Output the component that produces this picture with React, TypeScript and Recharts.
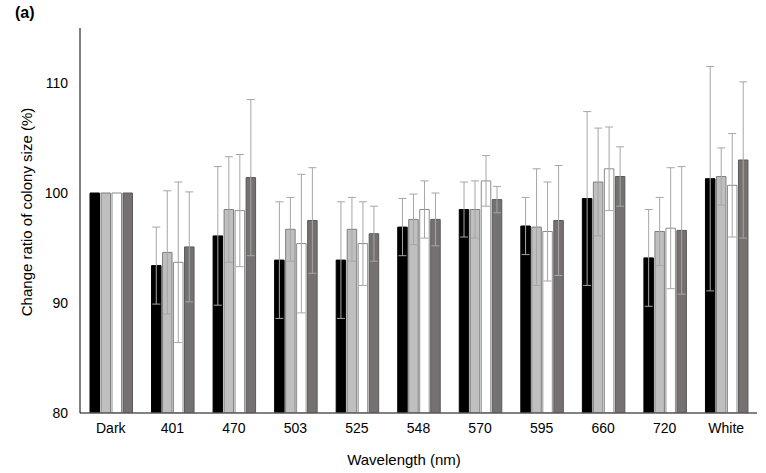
import React from 'react';
import { BarChart, Bar, XAxis, YAxis, ErrorBar, Label } from 'recharts';

const categories = ['Dark', '401', '470', '503', '525', '548', '570', '595', '660', '720', 'White'];
const blackValues = [100, 93.4, 96.1, 93.9, 93.9, 96.9, 98.5, 97.0, 99.5, 94.1, 101.3];
const blackErr = [null, 3.5, 6.3, 5.3, 5.3, 2.6, 2.5, 2.6, 7.9, 4.4, 10.2];
const lightValues = [100, 94.6, 98.5, 96.7, 96.7, 97.6, 98.5, 96.9, 101.0, 96.5, 101.5];
const lightErr = [null, 5.6, 4.8, 2.9, 2.9, 2.3, 2.6, 5.3, 4.9, 3.1, 2.6];
const whiteValues = [100, 93.7, 98.4, 95.4, 95.4, 98.5, 101.1, 96.5, 102.2, 96.8, 100.7];
const whiteErr = [null, 7.3, 5.1, 6.3, 3.8, 2.6, 2.3, 4.5, 3.8, 5.5, 4.7];
const darkValues = [100, 95.1, 101.4, 97.5, 96.3, 97.6, 99.4, 97.5, 101.5, 96.6, 103.0];
const darkErr = [null, 5.0, 7.1, 4.8, 2.5, 2.4, 1.2, 5.0, 2.7, 5.8, 7.1];
const yTicks = [80, 90, 100, 110];

const data = categories.map((c, i) => ({
  name: c,
  s1: blackValues[i],
  e1: blackErr[i] ?? undefined,
  s2: lightValues[i],
  e2: lightErr[i] ?? undefined,
  s3: whiteValues[i],
  e3: whiteErr[i] ?? undefined,
  s4: darkValues[i],
  e4: darkErr[i] ?? undefined,
}));

const FONT = '"Liberation Sans", Arial, sans-serif';
const ERR = '#a6a6a6';

export default function App() {
  return (
    <div style={{ position: 'absolute', left: 0, top: 0, width: 766, height: 473, background: '#fff' }}>
      <BarChart
        width={766}
        height={473}
        data={data}
        margin={{ top: 28, right: 9, left: 0, bottom: 30 }}
        barSize={9.5}
        barGap={1.5}
      >
        <XAxis
          dataKey="name"
          height={30}
          tickLine={false}
          tickSize={0}
          tickMargin={10}
          axisLine={{ stroke: '#595959', strokeWidth: 1.5 }}
          tick={{ fill: '#000', fontSize: 14, fontFamily: FONT }}
          interval={0}
        >
          <Label
            content={() => (
              <text x={404} y={465} textAnchor="middle" fontSize={15} fontFamily={FONT} fill="#000">
                Wavelength (nm)
              </text>
            )}
          />
        </XAxis>
        <YAxis
          width={80}
          domain={[80, 115]}
          ticks={yTicks}
          tickLine={false}
          tickSize={0}
          tickMargin={12}
          axisLine={{ stroke: '#000', strokeWidth: 1 }}
          tick={{ fill: '#000', fontSize: 14, fontFamily: FONT }}
          allowDataOverflow
        >
          <Label
            content={() => (
              <text
                x={26}
                y={212}
                textAnchor="middle"
                dominantBaseline="central"
                fontSize={15}
                fontFamily={FONT}
                fill="#000"
                transform="rotate(-90 26 212)"
              >
                Change ratio of colony size (%)
              </text>
            )}
          />
        </YAxis>
        <Bar dataKey="s1" fill="#000000" stroke="#000000" strokeWidth={1} isAnimationActive={false}>
          <ErrorBar dataKey="e1" width={4} stroke={ERR} strokeWidth={1} isAnimationActive={false} />
        </Bar>
        <Bar dataKey="s2" fill="#bfbfbf" stroke="#7f7f7f" strokeWidth={1} isAnimationActive={false}>
          <ErrorBar dataKey="e2" width={4} stroke={ERR} strokeWidth={1} isAnimationActive={false} />
        </Bar>
        <Bar dataKey="s3" fill="#ffffff" stroke="#8c8c8c" strokeWidth={1} isAnimationActive={false}>
          <ErrorBar dataKey="e3" width={4} stroke={ERR} strokeWidth={1} isAnimationActive={false} />
        </Bar>
        <Bar dataKey="s4" fill="#767171" stroke="#595959" strokeWidth={1} isAnimationActive={false}>
          <ErrorBar dataKey="e4" width={4} stroke={ERR} strokeWidth={1} isAnimationActive={false} />
        </Bar>
      </BarChart>
      <div
        style={{
          position: 'absolute',
          left: 15,
          top: 4,
          fontFamily: FONT,
          fontWeight: 'bold',
          fontSize: 16,
          color: '#000',
        }}
      >
        (a)
      </div>
    </div>
  );
}
